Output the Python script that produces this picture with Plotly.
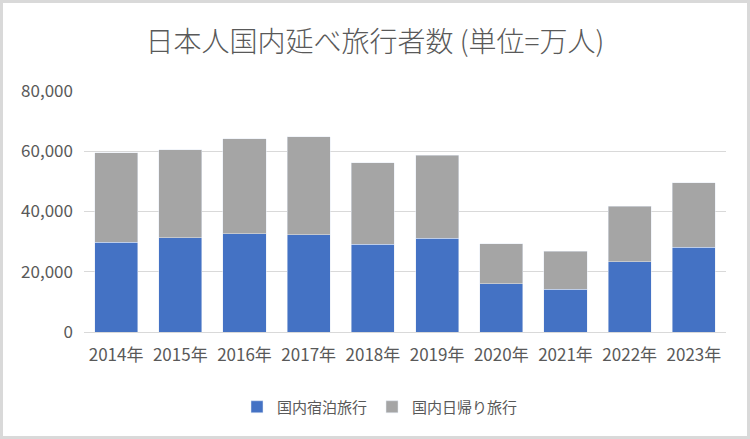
import plotly.graph_objects as go

years = ["2014年", "2015年", "2016年", "2017年", "2018年", "2019年", "2020年", "2021年", "2022年", "2023年"]
overnight = [29734, 31299, 32566, 32333, 29105, 31162, 16070, 14177, 23247, 28184]
day_trip = [29788, 29173, 31542, 32418, 27073, 27548, 13271, 12644, 18539, 21289]

W, H = 750, 439
ml, mr, mt, mb = 84, 24, 91, 107
pw, ph = W - ml - mr, H - mt - mb

font = "Noto Sans CJK JP, Noto Sans, sans-serif"
grey = "#595959"

fig = go.Figure()
fig.add_trace(go.Bar(x=years, y=overnight, name="国内宿泊旅行", marker_color="#4472c4"))
fig.add_trace(go.Bar(x=years, y=day_trip, name="国内日帰り旅行", marker_color="#a5a5a5"))

fig.update_layout(
    width=W,
    height=H,
    barmode="stack",
    bargap=0.33,
    margin=dict(l=ml, r=mr, t=mt, b=mb),
    paper_bgcolor="white",
    plot_bgcolor="white",
    font=dict(family=font, color=grey, size=14),
    title=dict(
        text="日本人国内延べ旅行者数 (単位=万人)",
        x=0.5,
        xanchor="center",
        y=1 - 42 / H,
        yanchor="middle",
        font=dict(size=28, color=grey, family=font, weight=300),
    ),
    legend=dict(
        orientation="h",
        x=(380 - ml) / pw,
        xanchor="center",
        y=-(407 - 332) / ph,
        yanchor="middle",
        font=dict(size=15, color=grey),
        itemwidth=30,
        traceorder="normal",
    ),
    showlegend=True,
)
fig.update_yaxes(
    range=[0, 80000],
    dtick=20000,
    tickformat=",",
    gridcolor="#d9d9d9",
    gridwidth=1,
    zeroline=False,
    showline=False,
    ticks="",
    ticklabelstandoff=10,
    tickfont=dict(size=17, color=grey),
)
fig.update_xaxes(
    showline=True,
    linecolor="#d9d9d9",
    linewidth=1,
    ticks="",
    ticklabelstandoff=8,
    tickfont=dict(size=17, color=grey),
)
# outer chart border
fig.add_shape(
    type="rect",
    xref="paper",
    yref="paper",
    x0=-(ml - 1.5) / pw,
    x1=1 + (mr - 1.5) / pw,
    y0=-(mb - 1.5) / ph,
    y1=1 + (mt - 1.5) / ph,
    line=dict(color="#d9d9d9", width=3),
    layer="below",
)

fig.write_html(
    "out.html",
    config={"displayModeBar": False},
    post_script="document.body.style.margin='0';",
)
